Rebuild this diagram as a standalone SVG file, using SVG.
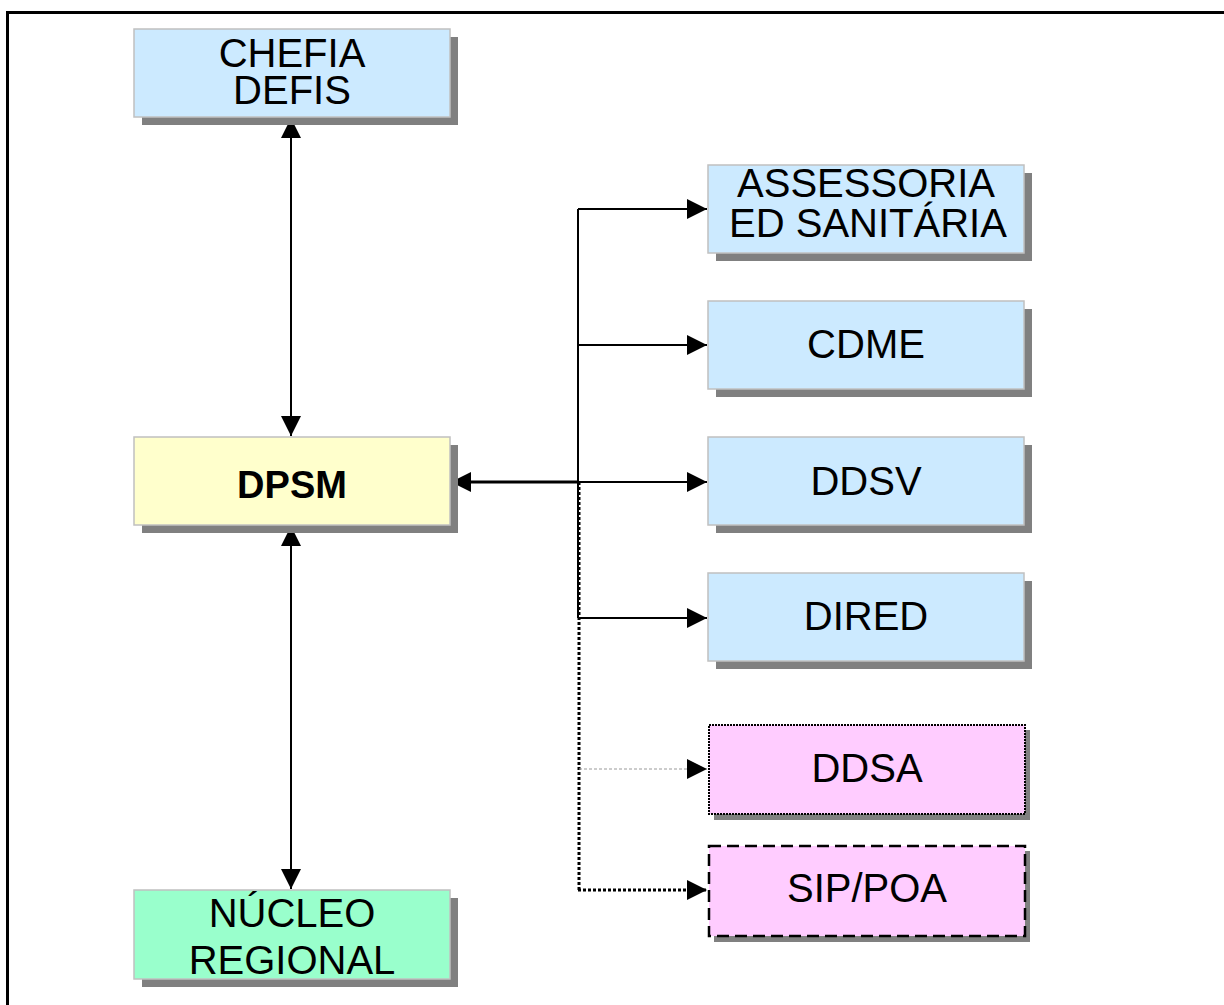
<svg xmlns="http://www.w3.org/2000/svg" width="1224" height="1005" viewBox="0 0 1224 1005">
  <style>
    .shadow { fill: #808080; }
    .box { stroke: #c0c0c0; stroke-width: 1.5; }
    .blue { fill: #cceaff; }
    .yellow { fill: #ffffcc; }
    .green { fill: #99ffcc; }
    .pink { fill: #ffccff; }
    .label { font-family: "Liberation Sans", Arial, sans-serif; font-size: 40px; fill: #000; text-anchor: middle; }
    .bold { font-weight: bold; font-size: 38px; }
    .line { stroke: #000; stroke-width: 2; fill: none; }
  </style>
  <defs>
    <marker id="arrow" viewBox="0 0 20 20" refX="20" refY="10" markerWidth="20" markerHeight="20" markerUnits="userSpaceOnUse" orient="auto-start-reverse">
      <path d="M0,0 L20,10 L0,20 Z" fill="#000"/>
    </marker>
  </defs>

  <rect width="1224" height="1005" fill="#fff"/>
  <!-- page frame -->
  <rect x="7.5" y="12.5" width="1300" height="1100" fill="none" stroke="#000" stroke-width="3"/>

  <g id="connectors">
    <!-- vertical links of DPSM -->
    <line class="line" x1="291" y1="118" x2="291" y2="436" marker-start="url(#arrow)" marker-end="url(#arrow)"/>
    <line class="line" x1="291" y1="526" x2="291" y2="889" marker-start="url(#arrow)" marker-end="url(#arrow)"/>
    <!-- DPSM to trunk -->
    <line x1="451" y1="482" x2="579" y2="482" stroke="#000" stroke-width="3" marker-start="url(#arrow)"/>
    <!-- trunk -->
    <line class="line" x1="578" y1="209" x2="578" y2="618"/>
    <line x1="579" y1="482" x2="579" y2="890" stroke="#000" stroke-width="3" stroke-dasharray="3,2"/>
    <!-- branches -->
    <line class="line" x1="578" y1="209" x2="707" y2="209" marker-end="url(#arrow)"/>
    <line class="line" x1="578" y1="345" x2="707" y2="345" marker-end="url(#arrow)"/>
    <line class="line" x1="578" y1="482" x2="707" y2="482" marker-end="url(#arrow)"/>
    <line class="line" x1="578" y1="618" x2="707" y2="618" marker-end="url(#arrow)"/>
    <line x1="579" y1="769" x2="707" y2="769" stroke="#999" stroke-width="1" stroke-dasharray="3,2" marker-end="url(#arrow)"/>
    <line x1="578" y1="890" x2="707" y2="890" stroke="#000" stroke-width="3" stroke-dasharray="3,2" marker-end="url(#arrow)"/>
  </g>

  <g id="chefia-defis">
    <rect class="shadow" x="142" y="37" width="316" height="88"/>
    <rect class="box blue" x="134" y="29" width="316" height="88"/>
    <text class="label" x="292" y="67">CHEFIA</text>
    <text class="label" x="292" y="104">DEFIS</text>
  </g>

  <g id="dpsm">
    <rect class="shadow" x="142" y="445" width="316" height="88"/>
    <rect class="box yellow" x="134" y="437" width="316" height="88"/>
    <text class="label bold" x="292" y="498">DPSM</text>
  </g>

  <g id="nucleo-regional">
    <rect class="shadow" x="142" y="898" width="316" height="89"/>
    <rect class="box green" x="134" y="890" width="316" height="89"/>
    <text class="label" x="292" y="927">NÚCLEO</text>
    <text class="label" x="292" y="974">REGIONAL</text>
  </g>

  <g id="assessoria">
    <rect class="shadow" x="716" y="173" width="316" height="88"/>
    <rect class="box blue" x="708" y="165" width="316" height="88"/>
    <text class="label" x="866" y="197">ASSESSORIA</text>
    <text class="label" x="868" y="237">ED SANITÁRIA</text>
  </g>

  <g id="cdme">
    <rect class="shadow" x="716" y="309" width="316" height="88"/>
    <rect class="box blue" x="708" y="301" width="316" height="88"/>
    <text class="label" x="866" y="358">CDME</text>
  </g>

  <g id="ddsv">
    <rect class="shadow" x="716" y="445" width="316" height="88"/>
    <rect class="box blue" x="708" y="437" width="316" height="88"/>
    <text class="label" x="866" y="495">DDSV</text>
  </g>

  <g id="dired">
    <rect class="shadow" x="716" y="581" width="316" height="88"/>
    <rect class="box blue" x="708" y="573" width="316" height="88"/>
    <text class="label" x="866" y="630">DIRED</text>
  </g>

  <g id="ddsa">
    <rect class="shadow" x="714" y="730" width="316" height="90"/>
    <rect class="pink" x="709" y="725" width="316" height="89" stroke="#000" stroke-width="2" stroke-dasharray="2,1"/>
    <text class="label" x="867" y="782">DDSA</text>
  </g>

  <g id="sip-poa">
    <rect class="shadow" x="714" y="851" width="316" height="91"/>
    <rect class="pink" x="709" y="846" width="316" height="90" stroke="#000" stroke-width="2.5" stroke-dasharray="12,6"/>
    <text class="label" x="867" y="902">SIP/POA</text>
  </g>
</svg>
